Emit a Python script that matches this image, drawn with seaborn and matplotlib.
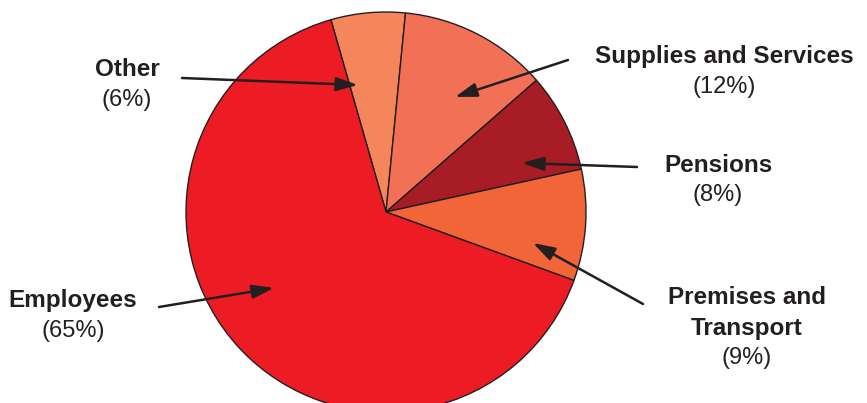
import matplotlib
matplotlib.use("Agg")
import matplotlib.pyplot as plt
import seaborn as sns

# slices, clockwise from the top-left boundary
labels = ["Other", "Supplies and Services", "Pensions", "Premises and\nTransport", "Employees"]
shares = [6, 12, 8, 9, 65]
colors = ["#F5855A", "#F27055", "#A81C25", "#F16539", "#ED1C24"]

# first label line centre (x, y up) and arrow tail/head, in pixel-like data units
label_pos = [(127, 333), (724, 346), (718, 238), (747, 105), (73, 102)]
arrow_tail = [(182, 325), (568, 343), (637, 236), (643, 99), (159, 96)]
arrow_head = [(358, 318), (455, 306), (522, 240), (533, 160), (274, 115)]

sns.set_theme(style="white")
plt.rcParams['font.family'] = ['Liberation Sans', 'DejaVu Sans']

fig = plt.figure(figsize=(8.67, 4.03), dpi=100)
ax = fig.add_axes([0, 0, 1, 1])

ax.pie(shares, colors=colors, startangle=106, counterclock=False,
       center=(386, 191), radius=200, frame=True,
       wedgeprops=dict(edgecolor="#231F20", linewidth=1.0))

txt = "#231F20"
step = 30
for name, val, (x, y), t, h in zip(labels, shares, label_pos, arrow_tail, arrow_head):
    lines = name.split("\n")
    for i, line in enumerate(lines):
        ax.text(x, y - step * i, line, ha="center", va="center", fontsize=17.5,
                fontweight="bold", color=txt)
    ax.text(x, y - step * len(lines), f"({val}%)", ha="center", va="center",
            fontsize=17, color=txt)
    ax.annotate("", xy=h, xytext=t,
                arrowprops=dict(arrowstyle="-|>,head_length=1.1,head_width=0.35",
                                color=txt, lw=1.8, shrinkA=0, shrinkB=0))

ax.set_xlim(0, 867)
ax.set_ylim(0, 403)
ax.set_aspect("equal")
ax.axis("off")

fig.savefig("out.png", dpi=100)
